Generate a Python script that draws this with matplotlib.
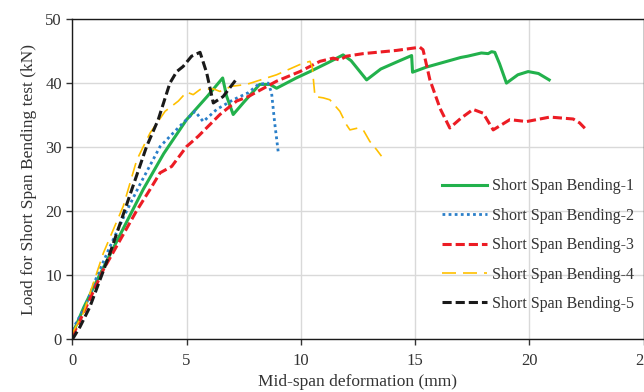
import matplotlib
matplotlib.use('Agg')
import matplotlib.pyplot as plt

plt.rcParams['font.family'] = ['Liberation Serif', 'DejaVu Serif']

# Short Span Bending-1
x1 = [0, 0.5, 1.2, 1.9, 3.1, 4.0, 5.0, 5.9, 6.58, 6.75, 7.04, 7.5, 8.2, 8.65, 8.94, 9.8,
      10.4, 11.2, 11.85, 12.2, 12.88, 13.5, 14.2, 14.85, 14.89, 15.5, 16.5, 17.0, 17.3,
      17.9, 18.2, 18.35, 18.49, 18.7, 19.0, 19.5, 19.95, 20.4, 20.87]
y1 = [0.8, 5, 10.1, 15.0, 23.4, 29, 34.3, 37.9, 40.8, 38, 35.1, 37, 39.8, 39.8, 39.2, 40.8,
      41.8, 43.2, 44.4, 43.5, 40.5, 42.2, 43.3, 44.3, 41.7, 42.5, 43.5, 44.0, 44.2,
      44.7, 44.6, 44.9, 44.8, 43, 40.0, 41.3, 41.8, 41.5, 40.5]

# Short Span Bending-2
x2 = [0, 0.56, 1.07, 1.65, 2.3, 2.96, 3.84, 4.71, 5.37, 5.73, 6.32, 7.04, 7.7, 8.14, 8.57,
      8.72, 8.85, 9.01]
y2 = [1.5, 5.1, 9.8, 14.5, 19.5, 24.2, 30.1, 33.3, 35.6, 34.0, 35.9, 37.4, 38.5, 39.8, 40.0,
      38.5, 34, 29.3]

# Short Span Bending-3
x3 = [0, 0.34, 1.36, 2.09, 2.8, 3.4, 3.84, 4.35, 5.0, 5.51, 6.46, 7.19, 7.7, 8.94, 9.96,
      10.84, 11.42, 11.7, 12.0, 12.73, 14.19, 15.21, 15.35, 15.65, 16.1, 16.52, 17.0, 17.54,
      17.98, 18.42, 19.15, 19.88, 20.9, 21.92, 22.2, 22.5]
y3 = [0.5, 3, 10.9, 15.5, 20, 23.4, 26.0, 27.0, 30.1, 31.7, 35.1, 37.2, 37.9, 40.3, 41.8,
      43.4, 43.9, 43.6, 44.2, 44.6, 45.1, 45.6, 45.2, 40.5, 36, 33.0, 34.5, 35.9,
      35.3, 32.7, 34.3, 34.0, 34.7, 34.4, 33.8, 32.7]

# Short Span Bending-4
x4 = [0, 0.48, 1.36, 2.23, 2.82, 3.4, 4.06, 4.64, 5.0, 5.29, 5.59, 6.17, 6.46, 6.97, 7.63,
      8.94, 9.96, 10.4, 10.5, 10.62, 10.98, 11.27, 11.71, 12.0, 12.15, 12.51, 12.73, 13.02,
      13.32, 13.53]
y4 = [1, 4.1, 13.5, 20.8, 28.0, 32.2, 35.6, 37.2, 38.6, 38.2, 39.0, 39.1, 38.7, 39.5, 39.8,
      41.3, 42.9, 43.4, 42.5, 37.9, 37.7, 37.4, 35.6, 33.5, 32.7, 33.0, 32.7, 30.9,
      29.6, 28.6]

# Short Span Bending-5
x5 = [0, 0.34, 0.77, 1.21, 1.65, 2.45, 3.25, 3.76, 4.27, 4.57, 4.85, 5.22, 5.59, 5.88, 6.17,
      6.6, 7.22]
y5 = [0, 2.0, 5.1, 9.3, 13.5, 21.8, 30.1, 34.3, 40.0, 41.8, 42.6, 44.2, 44.8, 41.6, 36.9,
      37.9, 40.8]

labels = ['Short Span Bending-1', 'Short Span Bending-2', 'Short Span Bending-3',
          'Short Span Bending-4', 'Short Span Bending-5']

fig = plt.figure(figsize=(6.44, 3.92), dpi=100)
ax = fig.add_axes([0.1123, 0.134, 0.887, 0.8175])

ax.plot(x1, y1, color='#22b14c', lw=2.2, label=labels[0])
ax.plot(x2, y2, color='#2a7fc9', lw=2.0, linestyle=(0, (1, 1.2)), label=labels[1])
ax.plot(x3, y3, color='#ec1c24', lw=2.2, linestyle=(0, (3, 1.3)), label=labels[2])
ax.plot(x4, y4, color='#ffc000', lw=1.2, linestyle=(0, (8.4, 4.2)), label=labels[3])
ax.plot(x5, y5, color='#1a1a1a', lw=2.2, linestyle=(0, (3, 1.3)), label=labels[4])

ax.set_xlim(0, 25)
ax.set_ylim(0, 50)
ax.set_xticks([0, 5, 10, 15, 20, 25])
ax.set_yticks([0, 10, 20, 30, 40, 50])
ax.grid(color='#d9d9d9', lw=1)
ax.set_axisbelow(True)
for s in ax.spines.values():
    s.set_color('#1a1a1a')
    s.set_linewidth(1.0)
ax.tick_params(labelsize=12, colors='#333333', length=4, width=1)
ax.tick_params(axis='x', pad=6)

ax.set_xlabel('Mid-span deformation (mm)', fontsize=12.5, color='#333333', labelpad=3.5)
ax.set_ylabel('Load for Short Span Bending test (kN)', fontsize=12.5, color='#333333',
              labelpad=6)

ax.legend(loc='upper left', bbox_to_anchor=(0.647, 0.503), frameon=False, fontsize=11.5,
          handlelength=2.8, handletextpad=0.33, labelspacing=0.84, borderpad=0,
          borderaxespad=0, labelcolor='#333333')

fig.savefig('out.png', dpi=100)
